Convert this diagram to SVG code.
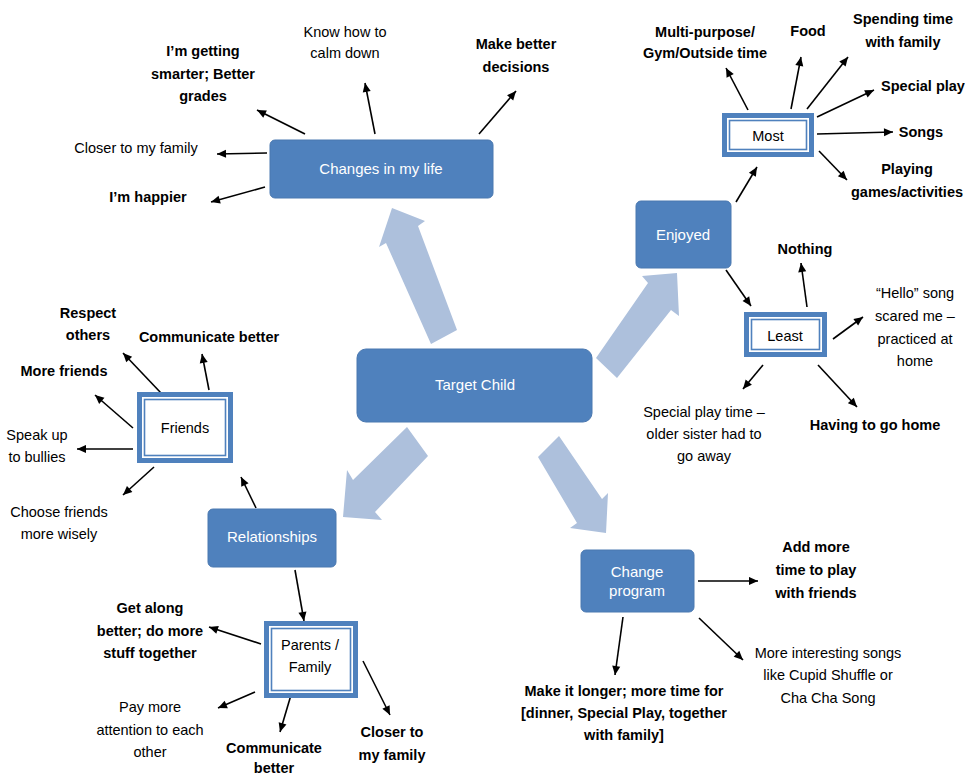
<svg xmlns="http://www.w3.org/2000/svg" width="965" height="777" viewBox="0 0 965 777">
<defs>
<style>
.t{font-family:"Liberation Sans",Arial,sans-serif;font-size:14.5px;fill:#000;text-anchor:middle}
.b{font-weight:bold}
.w{font-family:"Liberation Sans",Arial,sans-serif;font-size:15px;fill:#fff;text-anchor:middle}
.box{fill:#4f81bd;stroke:#4a78b0;stroke-width:1}
.fo{fill:#4f81bd}
.fi{fill:#fff}
.fl{fill:none;stroke:#4f81bd;stroke-width:1.6}
.big{fill:#adc0dc}
.c{stroke:#000;stroke-width:1.6;fill:none;marker-end:url(#ah)}
</style>
<marker id="ah" viewBox="0 0 10 10" refX="10" refY="5" markerWidth="10" markerHeight="9" markerUnits="userSpaceOnUse" orient="auto">
<path d="M0,0.5 L10,5 L0,9.5 z" fill="#000"/>
</marker>
</defs>
<rect width="965" height="777" fill="#fff"/>

<g id="big-arrows">
<polygon class="big" points="392,208 425,221 418,226 457,330 431,344 386,243 379,247"/>
<polygon class="big" points="677,273 679,316 671,310 617,378 596,358 648,283 642,276"/>
<polygon class="big" points="407,427 428,456 375,512 382,520 343,517 347,470 353,480"/>
<polygon class="big" points="559,436 602,499 608,493 606,533 570,528 577,523 538,457"/>
</g>

<g id="connectors">
<line class="c" x1="305" y1="134" x2="257" y2="110"/>
<line class="c" x1="375" y1="134" x2="365" y2="83"/>
<line class="c" x1="479" y1="134" x2="516" y2="91"/>
<line class="c" x1="267" y1="153" x2="217" y2="154"/>
<line class="c" x1="265" y1="187" x2="211" y2="202"/>

<line class="c" x1="748" y1="110" x2="726" y2="68"/>
<line class="c" x1="791" y1="109" x2="801" y2="57"/>
<line class="c" x1="807" y1="109" x2="848" y2="57"/>
<line class="c" x1="817" y1="117" x2="874" y2="90"/>
<line class="c" x1="817" y1="134" x2="893" y2="132"/>
<line class="c" x1="819" y1="151" x2="847" y2="180"/>
<line class="c" x1="736" y1="202" x2="757" y2="167"/>
<line class="c" x1="726" y1="270" x2="751" y2="306"/>

<line class="c" x1="807" y1="307" x2="801" y2="263"/>
<line class="c" x1="833" y1="339" x2="863" y2="317"/>
<line class="c" x1="763" y1="365" x2="743" y2="389"/>
<line class="c" x1="818" y1="365" x2="857" y2="407"/>

<line class="c" x1="161" y1="393" x2="123" y2="353"/>
<line class="c" x1="209" y1="390" x2="202" y2="354"/>
<line class="c" x1="133" y1="428" x2="95" y2="395"/>
<line class="c" x1="133" y1="449" x2="77" y2="449"/>
<line class="c" x1="154" y1="467" x2="123" y2="495"/>
<line class="c" x1="256" y1="508" x2="241" y2="477"/>

<line class="c" x1="295" y1="570" x2="304" y2="621"/>
<line class="c" x1="261" y1="644" x2="209" y2="627"/>
<line class="c" x1="255" y1="692" x2="218" y2="708"/>
<line class="c" x1="291" y1="695" x2="280" y2="732"/>
<line class="c" x1="363" y1="661" x2="390" y2="715"/>

<line class="c" x1="698" y1="581" x2="758" y2="581"/>
<line class="c" x1="623" y1="617" x2="615" y2="675"/>
<line class="c" x1="699" y1="618" x2="743" y2="660"/>
</g>

<g id="target-child">
<rect class="box" x="357" y="349" width="235" height="73" rx="9"/>
<text class="w" x="475" y="390">Target Child</text>
</g>

<g id="changes">
<rect class="box" x="270" y="140" width="223" height="58" rx="5"/>
<text class="w" x="381" y="174">Changes in my life</text>
</g>

<g id="enjoyed">
<rect class="box" x="636" y="201" width="95" height="67" rx="5"/>
<text class="w" x="683" y="240">Enjoyed</text>
</g>

<g id="relationships">
<rect class="box" x="208" y="509" width="128" height="58" rx="5"/>
<text class="w" x="272" y="542">Relationships</text>
</g>

<g id="change-program">
<rect class="box" x="581" y="550" width="113" height="62" rx="5"/>
<text class="w" x="637" y="577">Change</text>
<text class="w" x="637" y="596">program</text>
</g>

<g id="most">
<rect class="fo" x="722" y="113" width="92" height="44"/>
<rect class="fi" x="727" y="118" width="82" height="34"/>
<rect class="fl" x="729.5" y="120.5" width="77" height="29"/>
<text class="t" x="768" y="141">Most</text>
</g>

<g id="least">
<rect class="fo" x="744" y="312" width="83" height="45"/>
<rect class="fi" x="749" y="317" width="73" height="35"/>
<rect class="fl" x="751.5" y="319.5" width="68" height="30"/>
<text class="t" x="785" y="341">Least</text>
</g>

<g id="friends">
<rect class="fo" x="137" y="392" width="96" height="71"/>
<rect class="fi" x="142" y="397" width="86" height="61"/>
<rect class="fl" x="144.5" y="399.5" width="81" height="56"/>
<text class="t" x="185" y="433">Friends</text>
</g>

<g id="parents-family">
<rect class="fo" x="264" y="621" width="94" height="77"/>
<rect class="fi" x="269" y="626" width="84" height="67"/>
<rect class="fl" x="271.5" y="628.5" width="79" height="62"/>
<text class="t" x="310" y="650">Parents /</text>
<text class="t" x="310" y="672">Family</text>
</g>

<g id="labels-changes">
<text class="t b" x="203" y="56">I’m getting</text>
<text class="t b" x="203" y="79">smarter; Better</text>
<text class="t b" x="203" y="101">grades</text>
<text class="t" x="345" y="37">Know how to</text>
<text class="t" x="345" y="58">calm down</text>
<text class="t b" x="516" y="49">Make better</text>
<text class="t b" x="516" y="72">decisions</text>
<text class="t" x="136" y="153">Closer to my family</text>
<text class="t b" x="148" y="202">I’m happier</text>
</g>

<g id="labels-most">
<text class="t b" x="705" y="37">Multi-purpose/</text>
<text class="t b" x="705" y="58">Gym/Outside time</text>
<text class="t b" x="808" y="36">Food</text>
<text class="t b" x="903" y="24">Spending time</text>
<text class="t b" x="903" y="47">with family</text>
<text class="t b" x="923" y="91">Special play</text>
<text class="t b" x="921" y="137">Songs</text>
<text class="t b" x="907" y="174">Playing</text>
<text class="t b" x="907" y="197">games/activities</text>
</g>

<g id="labels-least">
<text class="t b" x="805" y="254">Nothing</text>
<text class="t" x="915" y="298">“Hello” song</text>
<text class="t" x="915" y="321">scared me –</text>
<text class="t" x="915" y="344">practiced at</text>
<text class="t" x="915" y="366">home</text>
<text class="t" x="704" y="417">Special play time –</text>
<text class="t" x="704" y="439">older sister had to</text>
<text class="t" x="704" y="461">go away</text>
<text class="t b" x="875" y="430">Having to go home</text>
</g>

<g id="labels-friends">
<text class="t b" x="88" y="318">Respect</text>
<text class="t b" x="88" y="340">others</text>
<text class="t b" x="209" y="342">Communicate better</text>
<text class="t b" x="64" y="376">More friends</text>
<text class="t" x="37" y="440">Speak up</text>
<text class="t" x="37" y="462">to bullies</text>
<text class="t" x="59" y="517">Choose friends</text>
<text class="t" x="59" y="539">more wisely</text>
</g>

<g id="labels-family">
<text class="t b" x="150" y="613">Get along</text>
<text class="t b" x="150" y="636">better; do more</text>
<text class="t b" x="150" y="658">stuff together</text>
<text class="t" x="150" y="712">Pay more</text>
<text class="t" x="150" y="735">attention to each</text>
<text class="t" x="150" y="757">other</text>
<text class="t b" x="274" y="753">Communicate</text>
<text class="t b" x="274" y="773">better</text>
<text class="t b" x="392" y="737">Closer to</text>
<text class="t b" x="392" y="760">my family</text>
</g>

<g id="labels-program">
<text class="t b" x="816" y="552">Add more</text>
<text class="t b" x="816" y="575">time to play</text>
<text class="t b" x="816" y="598">with friends</text>
<text class="t b" x="624" y="696">Make it longer; more time for</text>
<text class="t b" x="624" y="718">[dinner, Special Play, together</text>
<text class="t b" x="624" y="740">with family]</text>
<text class="t" x="828" y="658">More interesting songs</text>
<text class="t" x="828" y="680">like Cupid Shuffle or</text>
<text class="t" x="828" y="703">Cha Cha Song</text>
</g>
</svg>
